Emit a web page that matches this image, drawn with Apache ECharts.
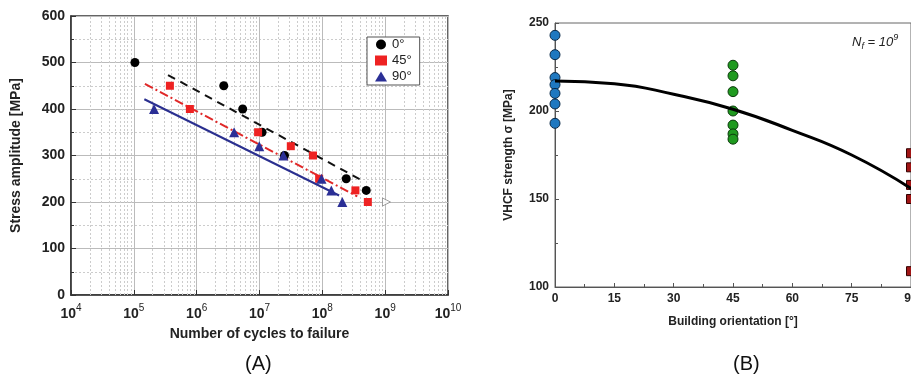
<!DOCTYPE html>
<html>
<head>
<meta charset="utf-8">
<script src="https://cdn.jsdelivr.net/npm/echarts@6/dist/echarts.min.js"></script>
<style>html,body{margin:0;padding:0;background:#fff}#chart{width:911px;height:382px}</style>
</head>
<body>
<div id="chart"></div>
<script>
// (A) S-N data: [cycles to failure, stress amplitude MPa]
const sn0 = [[1.04e5, 500], [2.7e6, 450], [5.4e6, 400], [1.1e7, 350], [2.5e7, 300], [2.4e8, 250], [5.0e8, 225]];
const sn45 = [[3.75e5, 450], [7.8e5, 400], [9.5e6, 350], [3.15e7, 320], [7.1e7, 300], [8.9e7, 250], [3.36e8, 225], [5.3e8, 200]];
const sn90 = [[2.1e5, 400], [3.95e6, 350], [9.9e6, 320], [2.4e7, 300], [9.7e7, 250], [1.39e8, 225], [2.08e8, 200]];
const runout = [[1.05e9, 200]];
const fit0 = [[3.5e5, 473], [4.6e8, 244]];
const fit45 = [[1.5e5, 454], [3.6e8, 212]];
const fit90 = [[1.47e5, 421], [1.85e8, 214]];

// (B) VHCF strength at Nf = 1e9 by building orientation
const orient0 = [243, 232, 219, 215, 210, 204, 193];
const orient45 = [226, 220, 211, 200, 192, 187, 184];
const orient90 = [176, 168, 158, 150, 109];
const fitB = [[0, 217], [15, 215.5], [30, 209.5], [45, 201], [60, 189], [75, 175], [90, 156]];

// minor grid lines of the log axis (2..9 x 10^n)
const minorX = [];
for (let e = 4; e < 10; e++) {
  for (let k = 2; k < 10; k++) minorX.push({ xAxis: k * Math.pow(10, e) });
}

const font = 'Liberation Sans, Arial, sans-serif';
const txt = '#222';

const chart = echarts.init(document.getElementById('chart'));

const option = {
  backgroundColor: '#fff',
  animation: false,
  textStyle: { fontFamily: font },
  grid: [
    { left: 71, right: 463, top: 16, bottom: 87, show: true, borderColor: '#333', borderWidth: 1.5, outerBoundsMode: 'none' },
    { left: 555, right: 0, top: 23, bottom: 95, show: true, borderColor: '#666', borderWidth: 1, outerBoundsMode: 'none' }
  ],
  legend: {
    data: ['0°', '45°', '90°'],
    orient: 'vertical',
    left: 367, top: 37,
    backgroundColor: '#fff',
    borderColor: '#555', borderWidth: 1,
    padding: [1, 8, 2, 8],
    itemGap: 3, itemWidth: 12, itemHeight: 10,
    textStyle: { fontSize: 13, color: txt, fontFamily: font },
    z: 20
  },
  xAxis: [
    {
      gridIndex: 0, type: 'log', logBase: 10, min: 1e4, max: 1e10,
      name: 'Number of cycles to failure', nameLocation: 'middle', nameGap: 32,
      nameTextStyle: { fontSize: 14, fontWeight: 'bold', color: txt },
      axisLine: { lineStyle: { color: '#333', width: 1.5 } },
      axisTick: { inside: true, length: 5, lineStyle: { color: '#333' } },
      splitLine: { show: true, lineStyle: { color: '#bbb' } },
      axisLabel: {
        margin: 8,
        formatter: v => '{b|10}{e|' + Math.round(Math.log10(v)) + '}',
        rich: {
          b: { fontSize: 14, fontWeight: 'bold', color: txt, lineHeight: 18, verticalAlign: 'bottom' },
          e: { fontSize: 10, color: txt, lineHeight: 18, verticalAlign: 'top' }
        }
      }
    },
    {
      gridIndex: 1, type: 'value', min: 0, max: 90, interval: 15,
      name: 'Building orientation [°]', nameLocation: 'middle', nameGap: 29,
      nameTextStyle: { fontSize: 12, fontWeight: 'bold', color: txt },
      axisLine: { onZero: false, lineStyle: { color: '#555' } },
      axisTick: { inside: true, length: 4, lineStyle: { color: '#555' } },
      minorTick: { show: true, splitNumber: 2, length: 3, lineStyle: { color: '#555' } },
      splitLine: { show: false },
      axisLabel: { fontSize: 12, fontWeight: 'bold', color: txt, margin: 6 }
    }
  ],
  yAxis: [
    {
      gridIndex: 0, type: 'value', min: 0, max: 600, interval: 100,
      name: 'Stress amplitude [MPa]', nameLocation: 'middle', nameGap: 48,
      nameTextStyle: { fontSize: 14, fontWeight: 'bold', color: txt },
      axisLine: { lineStyle: { color: '#333', width: 1.5 } },
      axisTick: { inside: true, length: 5, lineStyle: { color: '#333' } },
      minorTick: { show: true, splitNumber: 2, length: 3, lineStyle: { color: '#333' } },
      splitLine: { show: true, lineStyle: { color: '#bbb' } },
      minorSplitLine: { show: true, lineStyle: { color: '#ccc', type: [2, 2] } },
      axisLabel: { fontSize: 14, fontWeight: 'bold', color: txt, margin: 6 }
    },
    {
      gridIndex: 1, type: 'value', min: 100, max: 250, interval: 50,
      name: 'VHCF strength σ [MPa]', nameLocation: 'middle', nameGap: 40,
      nameTextStyle: { fontSize: 12, fontWeight: 'bold', color: txt },
      axisLine: { lineStyle: { color: '#555' } },
      axisTick: { inside: true, length: 4, lineStyle: { color: '#555' } },
      minorTick: { show: true, splitNumber: 2, length: 3, lineStyle: { color: '#555' } },
      splitLine: { show: false },
      axisLabel: { fontSize: 12, fontWeight: 'bold', color: txt, margin: 6 }
    }
  ],
  series: [
    {
      type: 'line', xAxisIndex: 0, yAxisIndex: 0, data: fit0, symbol: 'none',
      lineStyle: { color: '#111', width: 2, type: [8, 6] }, silent: true, z: 5
    },
    {
      type: 'line', xAxisIndex: 0, yAxisIndex: 0, data: fit45, symbol: 'none',
      lineStyle: { color: '#e02828', width: 2, type: [9, 3, 2, 3] }, silent: true, z: 5
    },
    {
      type: 'line', xAxisIndex: 0, yAxisIndex: 0, data: fit90, symbol: 'none',
      lineStyle: { color: '#2a2f8f', width: 2 }, silent: true, z: 5
    },
    {
      name: '0°', type: 'scatter', xAxisIndex: 0, yAxisIndex: 0, data: sn0,
      symbol: 'circle', symbolSize: 9, itemStyle: { color: '#000', opacity: 1 }, z: 6
    },
    {
      name: '45°', type: 'scatter', xAxisIndex: 0, yAxisIndex: 0, data: sn45,
      symbol: 'rect', symbolSize: 8, itemStyle: { color: '#ee2222', opacity: 1 }, z: 6
    },
    {
      name: '90°', type: 'scatter', xAxisIndex: 0, yAxisIndex: 0, data: sn90,
      symbol: 'triangle', symbolSize: 10, itemStyle: { color: '#2b2f96', opacity: 1 }, z: 6
    },
    {
      type: 'scatter', xAxisIndex: 0, yAxisIndex: 0, data: runout,
      symbol: 'triangle', symbolRotate: -90, symbolSize: 8,
      itemStyle: { color: '#fff', borderColor: '#888', borderWidth: 1 },
      markLine: {
        silent: true, symbol: 'none', label: { show: false }, z: 1,
        lineStyle: { color: '#ccc', type: [2, 2], width: 1 },
        data: minorX
      },
      z: 6
    },
    {
      type: 'line', xAxisIndex: 1, yAxisIndex: 1, data: fitB, smooth: true, symbol: 'none',
      lineStyle: { color: '#000', width: 3 }, z: 3
    },
    {
      type: 'scatter', xAxisIndex: 1, yAxisIndex: 1, data: orient0.map(v => [0, v]),
      symbol: 'circle', symbolSize: 10,
      itemStyle: { color: '#1f78c0', borderColor: '#0b2a48', borderWidth: 1, opacity: 1 }, z: 2
    },
    {
      type: 'scatter', xAxisIndex: 1, yAxisIndex: 1, data: orient45.map(v => [45, v]),
      symbol: 'circle', symbolSize: 10,
      itemStyle: { color: '#1f9a1f', borderColor: '#0c3a0c', borderWidth: 1, opacity: 1 }, z: 2
    },
    {
      type: 'scatter', xAxisIndex: 1, yAxisIndex: 1, data: orient90.map(v => [90, v]),
      symbol: 'rect', symbolSize: 9,
      itemStyle: { color: '#a01515', borderColor: '#300', borderWidth: 1, opacity: 1 }, z: 2
    }
  ],
  graphic: [
    {
      type: 'text', left: 852, top: 33,
      style: {
        text: '{n|N}{s|f}{n| = 10}{p|9}',
        rich: {
          n: { fontSize: 13, fontStyle: 'italic', fill: '#222', lineHeight: 18, verticalAlign: 'middle' },
          s: { fontSize: 9, fontStyle: 'italic', fill: '#222', lineHeight: 18, verticalAlign: 'bottom' },
          p: { fontSize: 9, fontStyle: 'italic', fill: '#222', lineHeight: 18, verticalAlign: 'top' }
        },
        fontFamily: font
      }
    },
    {
      type: 'text', left: 245, top: 354,
      style: { text: '(A)', fontSize: 20, fill: '#111', fontFamily: font }
    },
    {
      type: 'text', left: 733, top: 354,
      style: { text: '(B)', fontSize: 20, fill: '#111', fontFamily: font }
    }
  ]
};

chart.setOption(option);
window.addEventListener('resize', () => chart.resize());
</script>
</body>
</html>
